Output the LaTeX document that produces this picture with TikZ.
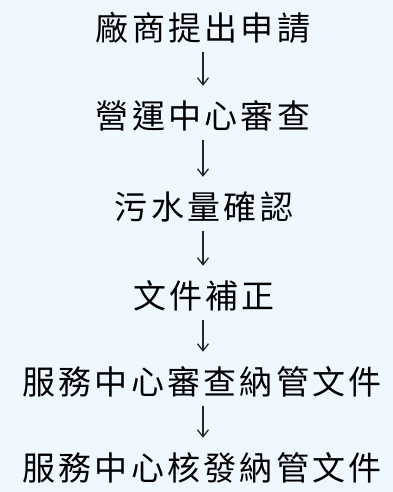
\documentclass[tikz,border=0pt]{standalone}
\usepackage{fontspec}
\newfontfamily\cjk{Noto Sans CJK TC}
\usetikzlibrary{arrows.meta}
\definecolor{bgblue}{RGB}{239,247,255}
\definecolor{arrowgray}{RGB}{40,40,40}
\def\gobbleone#1{}
\newcommand\spc[1]{\spcaux#1\relax}
\def\spcaux#1#2{#1\ifx\relax#2\expandafter\gobbleone\else\kern3.3pt\fi\spcaux#2}
\tikzset{
  stepbox/.style={inner sep=0pt, minimum height=44pt, font=\cjk\fontsize{33pt}{36pt}\selectfont, text=black},
  flowarrow/.style={draw=arrowgray, line width=1.3pt, shorten <=2pt, shorten >=8pt,
    -{Straight Barb[length=7pt,width=11pt,line width=1.3pt]}}
}
\begin{document}
\begin{tikzpicture}[x=1pt,y=1pt]
\fill[bgblue] (0,0) rectangle (393,-492);
\useasboundingbox (0,0) rectangle (393,-492);
\node[stepbox] (s1) at (203,-28) {\spc{廠商提出申請}};
\node[stepbox] (s2) at (203,-116) {\spc{營運中心審查}};
\node[stepbox] (s3) at (204,-207) {\spc{污水量確認}};
\node[stepbox] (s4) at (204,-296) {\spc{文件補正}};
\node[stepbox] (s5) at (202,-382) {\spc{服務中心審查納管文件}};
\node[stepbox] (s6) at (202,-468) {\spc{服務中心核發納管文件}};
\draw[flowarrow] (s1.south -| 203,0) -- (s2.north -| 203,0);
\draw[flowarrow] (s2.south -| 203,0) -- (s3.north -| 203,0);
\draw[flowarrow] (s3.south -| 203,0) -- (s4.north -| 203,0);
\draw[flowarrow] (s4.south -| 203,0) -- (s5.north -| 203,0);
\draw[flowarrow] (s5.south -| 203,0) -- (s6.north -| 203,0);
\end{tikzpicture}
\end{document}
